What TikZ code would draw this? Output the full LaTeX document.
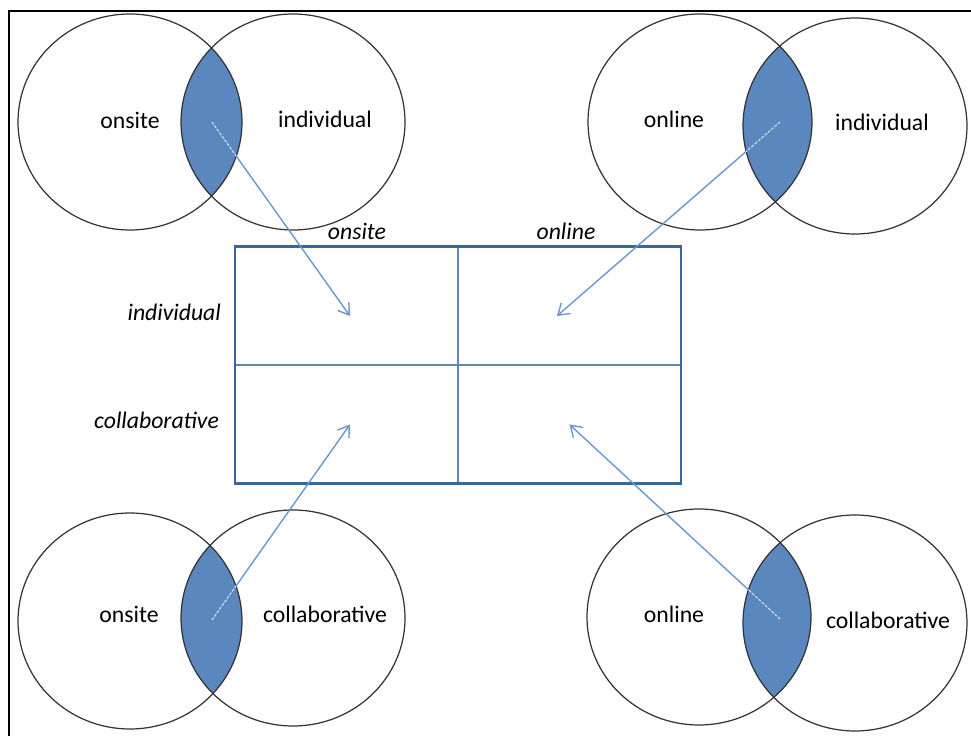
\documentclass[tikz,border=0pt]{standalone}
\usepackage{fontspec}
\setmainfont{Carlito}
\usetikzlibrary{positioning,arrows.meta}
\definecolor{lensblue}{HTML}{5B87BF}
\definecolor{boxblue}{HTML}{3F6497}
\definecolor{lineblue}{HTML}{6C97CB}

\begin{document}
\begin{tikzpicture}[x=0.02cm,y=-0.02cm,
  venn/.style={draw=black!80,line width=0.7pt},
  lbl/.style={font=\fontsize{13.5}{16}\selectfont,inner sep=1pt},
  hdr/.style={font=\fontsize{13.5}{16}\selectfont\itshape,inner sep=1pt},
  cell/.style={draw=lensblue,line width=0.9pt,minimum width=4.46cm,minimum height=2.37cm,inner sep=0pt,outer sep=0pt},
  arr/.style={lineblue,line width=0.8pt,-{Straight Barb[length=6pt,width=8pt]}}]
\useasboundingbox (0,0) rectangle (971,736);
\draw[line width=1.2pt] (9,736)--(9,11)--(971,11);
% the four cells of the grid
\node[cell] (c11) at (346.5,306) {};
\node[cell,right=0pt of c11] (c12) {};
\node[cell,below=0pt of c11] (c21) {};
\node[cell,right=0pt of c21] (c22) {};
\draw[boxblue,line width=1.5pt] (c11.north west) rectangle (c22.south east);
\node[hdr] (honsite) at (357,231) {onsite};
\node[hdr] (honline) at (566,231) {online};
\node[hdr,anchor=east] (hindiv) at (223,312) {individual};
\node[hdr,anchor=east] (hcollab) at (221,420) {collaborative};
% venn pairs
\foreach \n/\xa/\ya/\xb/\yb in {ul/130/122/293/122,ur/700/122/855/126,ll/130/621/293/618,lr/699/617/855/623}{
  \begin{scope}
    \clip (\xa,\ya) ellipse [x radius=112,y radius=108];
    \fill[lensblue] (\xb,\yb) ellipse [x radius=112,y radius=108];
  \end{scope}
  \draw[venn] (\xa,\ya) ellipse [x radius=112,y radius=108];
  \draw[venn] (\xb,\yb) ellipse [x radius=112,y radius=108];
}
\coordinate (lensul) at (212,122);
\coordinate (lensur) at (780,122);
\coordinate (lensll) at (212,620);
\coordinate (lenslr) at (780,619);
\node[lbl] (aonsite) at (130,120) {onsite};
\node[lbl] (aindiv) at (325,119) {individual};
\node[lbl] (bonline) at (674,119) {online};
\node[lbl] (bindiv) at (882,122) {individual};
\node[lbl] (conlsite) at (129,614) {onsite};
\node[lbl] (ccollab) at (325,614) {collaborative};
\node[lbl] (donline) at (674,614) {online};
\node[lbl] (dcollab) at (888,620) {collaborative};
\draw[arr] (lensul) -- ([xshift=0.07cm,yshift=-0.2cm]c11.center);
\draw[arr] (lensur) -- ([xshift=-0.25cm,yshift=-0.2cm]c12.center);
\draw[arr] (lensll) -- ([xshift=0.07cm]c21.center);
\draw[arr] (lenslr) -- (c22.center);
% faint white trace inside the lenses
\foreach \n/\xa/\ya/\xb/\yb/\t in {ul/130/122/293/122/{([xshift=0.07cm,yshift=-0.2cm]c11.center)},ur/700/122/855/126/{([xshift=-0.25cm,yshift=-0.2cm]c12.center)},ll/130/621/293/618/{([xshift=0.07cm]c21.center)},lr/699/617/855/623/{(c22.center)}}{
  \begin{scope}
    \clip (\xa,\ya) ellipse [x radius=112,y radius=108];
    \clip (\xb,\yb) ellipse [x radius=112,y radius=108];
    \draw[white!85!lensblue,line width=0.5pt,dash pattern=on 1.5pt off 1pt] (lens\n) -- \t;
  \end{scope}
}
\end{tikzpicture}
\end{document}
